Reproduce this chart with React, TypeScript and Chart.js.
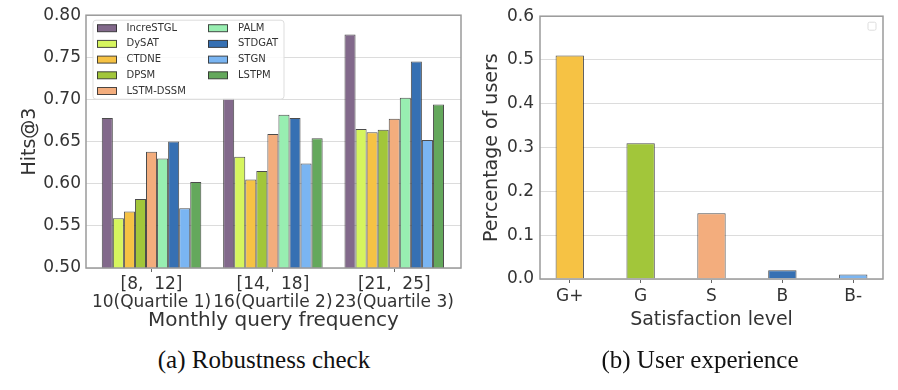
import React, { useEffect, useRef } from 'react';
import { Chart, registerables } from 'chart.js';

Chart.register(...registerables);
Chart.defaults.font.family = 'DejaVu Sans';

// ---------- Data: (a) Robustness check ----------
const groupLabels: string[][] = [
  ['[8,  12]', '10(Quartile 1)'],
  ['[14,  18]', '16(Quartile 2)'],
  ['[21,  25]', '23(Quartile 3)'],
];
const methods = ['IncreSTGL', 'DySAT', 'CTDNE', 'DPSM', 'LSTM-DSSM', 'PALM', 'STDGAT', 'STGN', 'LSTPM'];
const methodColors = ['#82698b', '#d6f55e', '#f6c244', '#a2c63a', '#f3ad7d', '#98eeb1', '#3670b3', '#7ab5f2', '#64a85c'];
const increSTGL = [0.678, 0.701, 0.777];
const dySAT = [0.559, 0.632, 0.665];
const ctdne = [0.567, 0.605, 0.661];
const dpsm = [0.582, 0.615, 0.664];
const lstmDssm = [0.638, 0.659, 0.677];
const palm = [0.63, 0.682, 0.702];
const stdgat = [0.65, 0.678, 0.745];
const stgn = [0.571, 0.624, 0.652];
const lstpm = [0.602, 0.654, 0.694];
const methodValues = [increSTGL, dySAT, ctdne, dpsm, lstmDssm, palm, stdgat, stgn, lstpm];
const hitsTicks = [0.5, 0.55, 0.6, 0.65, 0.7, 0.75, 0.8];

// ---------- Data: (b) User experience ----------
const levels = ['G+', 'G', 'S', 'B', 'B-'];
const userShare = [0.51, 0.31, 0.15, 0.02, 0.01];
const levelColors = ['#f6c244', '#a2c63a', '#f3ad7d', '#3670b3', '#7ab5f2'];
const shareTicks = [0, 0.1, 0.2, 0.3, 0.4, 0.5, 0.6];

const TEXT = '#333333';
const GRID = '#dcdcdc';
const EDGE = 'rgba(45,45,45,0.85)';

function roundRect(ctx: CanvasRenderingContext2D, x: number, y: number, w: number, h: number, r: number) {
  ctx.beginPath();
  ctx.moveTo(x + r, y);
  ctx.lineTo(x + w - r, y);
  ctx.quadraticCurveTo(x + w, y, x + w, y + r);
  ctx.lineTo(x + w, y + h - r);
  ctx.quadraticCurveTo(x + w, y + h, x + w - r, y + h);
  ctx.lineTo(x + r, y + h);
  ctx.quadraticCurveTo(x, y + h, x, y + h - r);
  ctx.lineTo(x, y + r);
  ctx.quadraticCurveTo(x, y, x + r, y);
  ctx.closePath();
}

const framePlugin = {
  id: 'frame',
  afterDraw(chart: any) {
    const { ctx, chartArea: a } = chart;
    ctx.save();
    ctx.strokeStyle = '#9a9a9a';
    ctx.lineWidth = 1.5;
    ctx.strokeRect(a.left, a.top, a.right - a.left, a.bottom - a.top);
    ctx.restore();
  },
};

const innerLegendPlugin = {
  id: 'innerLegend',
  afterDatasetsDraw(chart: any) {
    const { ctx, chartArea: a } = chart;
    const ds = chart.data.datasets;
    ctx.save();
    const bx = a.left + 7;
    const by = a.top + 5;
    roundRect(ctx, bx, by, 191, 79, 3);
    ctx.fillStyle = 'rgba(255,255,255,0.85)';
    ctx.fill();
    ctx.strokeStyle = '#dddddd';
    ctx.lineWidth = 1;
    ctx.stroke();
    ctx.font = '10px "DejaVu Sans"';
    ctx.textBaseline = 'middle';
    ctx.textAlign = 'left';
    ds.forEach((d: any, i: number) => {
      const col = i < 5 ? 0 : 1;
      const row = i < 5 ? i : i - 5;
      const sx = a.left + (col === 0 ? 11 : 122);
      const tx = a.left + (col === 0 ? 40.5 : 152);
      const cy = a.top + 13 + row * 15.7;
      ctx.fillStyle = d.backgroundColor;
      ctx.fillRect(sx, cy - 3.5, 20, 7);
      ctx.strokeStyle = EDGE;
      ctx.lineWidth = 1;
      ctx.strokeRect(sx + 0.5, cy - 3.5, 19, 7);
      ctx.fillStyle = TEXT;
      ctx.fillText(d.label, tx, cy);
    });
    ctx.restore();
  },
};

const emptyLegendPlugin = {
  id: 'emptyLegend',
  afterDatasetsDraw(chart: any) {
    const { ctx, chartArea: a } = chart;
    ctx.save();
    roundRect(ctx, a.right - 15, a.top + 6, 8, 8, 1.5);
    ctx.fillStyle = 'rgba(255,255,255,0.9)';
    ctx.fill();
    ctx.strokeStyle = '#dddddd';
    ctx.lineWidth = 1;
    ctx.stroke();
    ctx.restore();
  },
};

function RobustnessChart() {
  const ref = useRef<HTMLCanvasElement>(null);
  useEffect(() => {
    if (!ref.current) return;
    const chart = new Chart(ref.current, {
      type: 'bar',
      data: {
        datasets: methods.map((m, k) => ({
          label: m,
          data: methodValues[k].map((v, i) => ({ x: i, y: v })),
          backgroundColor: methodColors[k],
          borderColor: EDGE,
          borderWidth: 1,
          categoryPercentage: 0.82,
          barPercentage: 1,
        })),
      },
      options: {
        animation: false,
        responsive: false,
        layout: { padding: { left: 0, right: 9, top: 13, bottom: 0 } },
        plugins: { legend: { display: false }, tooltip: { enabled: false } },
        scales: {
          x: {
            type: 'linear',
            min: -0.54,
            max: 2.55,
            offset: false,
            afterBuildTicks: (s: any) => {
              s.ticks = groupLabels.map((_, i) => ({ value: i }));
            },
            afterFit: (s: any) => {
              s.height = 72;
            },
            ticks: {
              autoSkip: false,
              maxRotation: 0,
              minRotation: 0,
              padding: 3,
              color: TEXT,
              font: { size: 17, lineHeight: 1.1 },
              callback: (v: any) => groupLabels[v] ?? '',
            },
            grid: { offset: false, drawOnChartArea: false, drawTicks: true, tickLength: 4, color: '#666' },
            border: { display: false },
            title: {
              display: true,
              text: 'Monthly query frequency',
              color: TEXT,
              font: { size: 20 },
              padding: { top: 7, bottom: 7 },
            },
          },
          y: {
            min: 0.5,
            max: 0.8,
            afterBuildTicks: (s: any) => {
              s.ticks = hitsTicks.map((v) => ({ value: v }));
            },
            afterFit: (s: any) => {
              s.width = 86;
            },
            ticks: {
              padding: 5,
              color: TEXT,
              font: { size: 17 },
              callback: (v: any) => Number(v).toFixed(2),
            },
            grid: { color: GRID, drawTicks: false },
            border: { display: false },
            title: {
              display: true,
              text: 'Hits@3',
              color: TEXT,
              font: { size: 19 },
              padding: { top: 18.5, bottom: 0 },
            },
          },
        },
      },
      plugins: [innerLegendPlugin, framePlugin],
    } as any);
    return () => chart.destroy();
  }, []);
  return <canvas ref={ref} width={470} height={340} style={{ width: 470, height: 340, display: 'block' }} />;
}

function ExperienceChart() {
  const ref = useRef<HTMLCanvasElement>(null);
  useEffect(() => {
    if (!ref.current) return;
    const chart = new Chart(ref.current, {
      type: 'bar',
      data: {
        datasets: [
          {
            label: 'Percentage of users',
            data: userShare.map((v, i) => ({ x: i, y: v })),
            backgroundColor: levelColors,
            borderColor: EDGE,
            borderWidth: 1,
            categoryPercentage: 0.4,
            barPercentage: 1,
          },
        ],
      },
      options: {
        animation: false,
        responsive: false,
        layout: { padding: { left: 0, right: 15, top: 16, bottom: 0 } },
        plugins: { legend: { display: false }, tooltip: { enabled: false } },
        scales: {
          x: {
            type: 'linear',
            min: -0.42,
            max: 4.42,
            offset: false,
            afterBuildTicks: (s: any) => {
              s.ticks = levels.map((_, i) => ({ value: i }));
            },
            afterFit: (s: any) => {
              s.height = 61;
            },
            ticks: {
              autoSkip: false,
              maxRotation: 0,
              minRotation: 0,
              padding: 3,
              color: TEXT,
              font: { size: 17 },
              callback: (v: any) => levels[v] ?? '',
            },
            grid: { offset: false, drawOnChartArea: false, drawTicks: true, tickLength: 4, color: '#666' },
            border: { display: false },
            title: {
              display: true,
              text: 'Satisfaction level',
              color: TEXT,
              font: { size: 19 },
              padding: { top: 8.5, bottom: 8.5 },
            },
          },
          y: {
            min: 0,
            max: 0.6,
            afterBuildTicks: (s: any) => {
              s.ticks = shareTicks.map((v) => ({ value: v }));
            },
            afterFit: (s: any) => {
              s.width = 75;
            },
            ticks: {
              padding: 6,
              color: TEXT,
              font: { size: 17 },
              callback: (v: any) => Number(v).toFixed(1),
            },
            grid: { color: GRID, drawTicks: false },
            border: { display: false },
            title: {
              display: true,
              text: 'Percentage of users',
              color: TEXT,
              font: { size: 19 },
              padding: { top: 15.5, bottom: 0 },
            },
          },
        },
      },
      plugins: [emptyLegendPlugin, framePlugin],
    } as any);
    return () => chart.destroy();
  }, []);
  return <canvas ref={ref} width={433} height={340} style={{ width: 433, height: 340, display: 'block' }} />;
}

const captionStyle: React.CSSProperties = {
  position: 'absolute',
  top: 347,
  transform: 'translateX(-50%)',
  whiteSpace: 'nowrap',
  fontFamily: '"Liberation Serif", "Times New Roman", serif',
  fontSize: 25,
  lineHeight: 1,
  color: '#111',
};

export default function App() {
  return (
    <div style={{ position: 'absolute', left: 0, top: 0, width: 898, height: 390, background: '#fff', overflow: 'hidden' }}>
      <div style={{ position: 'absolute', left: 0, top: 0 }}>
        <RobustnessChart />
      </div>
      <div style={{ position: 'absolute', left: 465, top: 0 }}>
        <ExperienceChart />
      </div>
      <div style={{ ...captionStyle, left: 264 }}>(a) Robustness check</div>
      <div style={{ ...captionStyle, left: 700 }}>(b) User experience</div>
    </div>
  );
}
